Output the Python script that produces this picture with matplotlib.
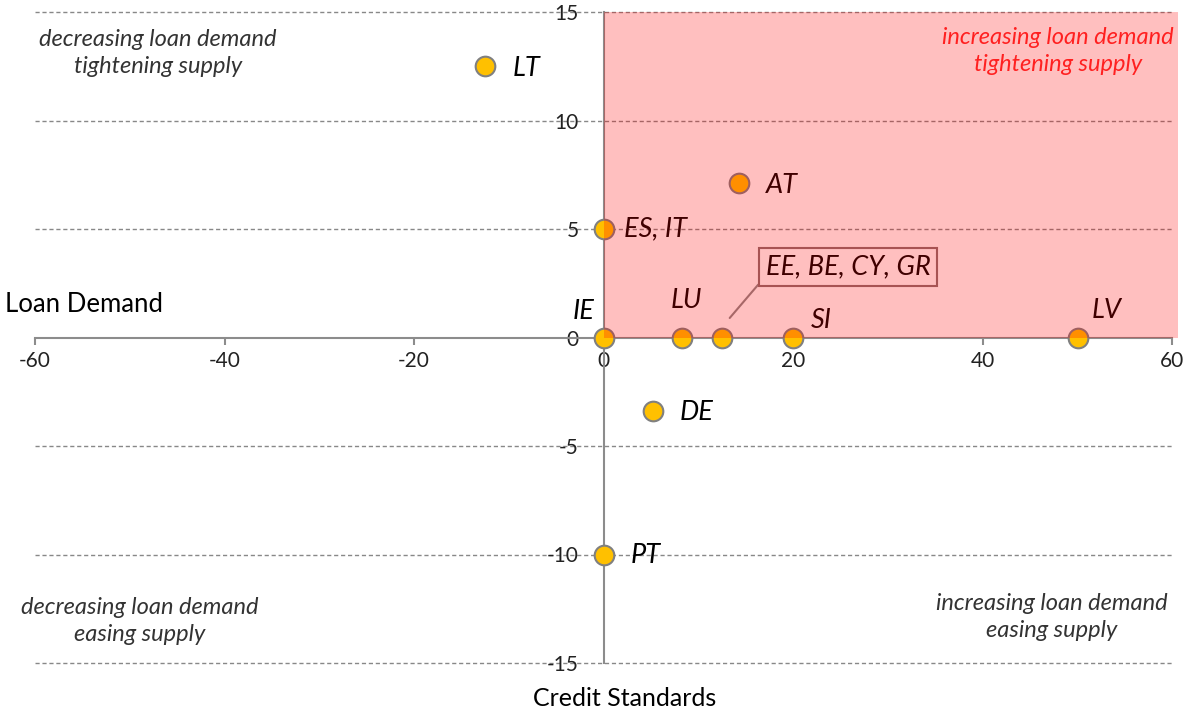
import numpy as np
import matplotlib
matplotlib.use('Agg')
from matplotlib import pyplot as plt
from matplotlib.patches import Rectangle

plt.rcParams['font.family'] = ['Lato', 'DejaVu Sans']

# credit standards (x) and loan demand (y) per country group
countries = ['LT', 'AT', 'ES, IT', 'IE', 'LU', 'EE, BE, CY, GR', 'SI', 'LV', 'DE', 'PT']
credit_std = [-12.5, 14.3, 0.0, 0.0, 8.3, 12.5, 20.0, 50.0, 5.2, 0.0]
loan_demand = [12.5, 7.1, 5.0, 0.0, 0.0, 0.0, 0.0, 0.0, -3.4, -10.0]

# label offsets in pixels (dx, dy, horizontal alignment)
offsets = {
    'LT': (27, -2, 'left'), 'AT': (27, -2, 'left'), 'ES, IT': (20, 0, 'left'),
    'IE': (-20, 26, 'center'), 'LU': (4, 37, 'center'), 'SI': (18, 17, 'left'),
    'LV': (29, 27, 'center'), 'DE': (27, -1, 'left'), 'PT': (27, -1, 'left'),
}

grid_levels = [-15, -10, -5, 5, 10, 15]
x_ticks = [-60, -40, -20, 0, 20, 40, 60]
y_ticks = [-15, -10, -5, 0, 5, 10, 15]

fig = plt.figure(figsize=(11.86, 7.13), dpi=100)
ax = fig.add_axes([35 / 1186, 50 / 713, (1178 - 35) / 1186, (663 - 12) / 713])
ax.set_xlim(-60, 60.6)
ax.set_ylim(-15, 15)

ax.hlines(grid_levels, -60, 60, colors='#888888', linestyles=(0, (3, 2)), lw=1,
          zorder=1, clip_on=False)

for s in ['top', 'right']:
    ax.spines[s].set_visible(False)
ax.spines['left'].set_position(('data', 0))
ax.spines['bottom'].set_position(('data', 0))
ax.spines['bottom'].set_bounds(-60, 60)
for s in ['left', 'bottom']:
    ax.spines[s].set_color('#8c8c8c')
    ax.spines[s].set_linewidth(1.5)
    ax.spines[s].set_zorder(2)

ax.set_xticks(x_ticks)
ax.set_xticklabels([str(t) for t in x_ticks])
ax.set_yticks(y_ticks)
ax.set_yticklabels([str(t) for t in y_ticks])
ax.tick_params(axis='x', direction='out', length=5, color='#8c8c8c', width=1.5,
               pad=5, labelsize=15, labelcolor='#222222')
ax.tick_params(axis='y', length=0, pad=18, labelsize=15, labelcolor='#222222')

ax.scatter(credit_std, loan_demand, s=200, color='#FFC000', edgecolors='#808080',
           linewidths=1.5, zorder=4)

for name, x, y in zip(countries, credit_std, loan_demand):
    if name in offsets:
        dx, dy, ha = offsets[name]
        ax.annotate(name, (x, y), xytext=(dx, dy), textcoords='offset pixels',
                    ha=ha, va='center', fontsize=19.5, style='italic', color='black', zorder=5)

# boxed label with leader line
ax.annotate('EE, BE, CY, GR', (13.3, 0.9), xytext=(25.8, 3.25), textcoords='data',
            ha='center', va='center', fontsize=19.5, style='italic', color='black',
            bbox=dict(boxstyle='square,pad=0.25', fc='none', ec='#8a7070', lw=1.5),
            arrowprops=dict(arrowstyle='-', color='#8a8a8a', lw=1.5, shrinkA=0, shrinkB=0,
                            relpos=(0.02, 0.3)),
            zorder=5)

# shaded quadrant on top
ax.add_patch(Rectangle((0, 0), 60.6, 15, facecolor='red', alpha=0.25, lw=0, zorder=6))

qkw = dict(ha='center', va='center', fontsize=17, style='italic', linespacing=1.35)
fig.text(158 / 1186, 1 - 53 / 713, 'decreasing loan demand\ntightening supply', color='#333333', **qkw)
fig.text(1058 / 1186, 1 - 51 / 713, 'increasing loan demand\ntightening supply', color='#ff2020', **qkw)
fig.text(140 / 1186, 1 - 621 / 713, 'decreasing loan demand\neasing supply', color='#333333', **qkw)
fig.text(1052 / 1186, 1 - 617 / 713, 'increasing loan demand\neasing supply', color='#333333', **qkw)

fig.text(5 / 1186, 1 - 305 / 713, 'Loan Demand', ha='left', va='center', fontsize=18.5, color='black')
fig.text(625 / 1186, 1 - 698 / 713, 'Credit Standards', ha='center', va='center', fontsize=18, color='black')

fig.savefig('out.png', dpi=100)
plt.close()
